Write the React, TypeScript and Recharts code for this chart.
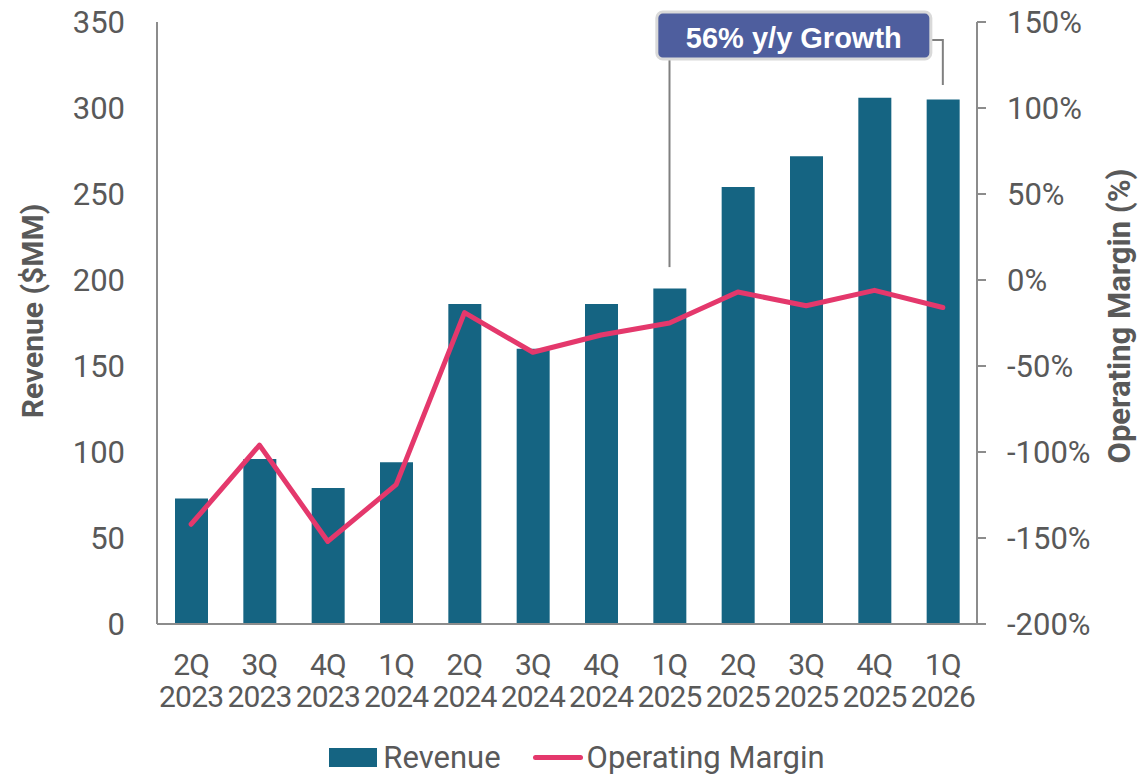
import React from "react";
import {
  ComposedChart,
  Bar,
  Line,
  XAxis,
  YAxis,
  Legend,
  ReferenceLine,
  ReferenceDot,
} from "recharts";

const quarters = [
  "2Q 2023",
  "3Q 2023",
  "4Q 2023",
  "1Q 2024",
  "2Q 2024",
  "3Q 2024",
  "4Q 2024",
  "1Q 2025",
  "2Q 2025",
  "3Q 2025",
  "4Q 2025",
  "1Q 2026",
];
const revenue = [73, 96, 79, 94, 186, 160, 186, 195, 254, 272, 306, 305];
const opMargin = [-142, -96, -152, -119, -19, -42, -32, -25, -7, -15, -6, -16];

const revenueTicks = [0, 50, 100, 150, 200, 250, 300, 350];
const marginTicks = [-200, -150, -100, -50, 0, 50, 100, 150];

const growthLabel = "56% y/y Growth";

const BAR = "#156482";
const LINE = "#E4386C";
const GREY = "#595959";
const AXIS = "#8c8c8c";

const data = quarters.map((q, i) => ({
  q,
  revenue: revenue[i],
  margin: opMargin[i],
}));

// two-line quarter label
const QuarterTick = (props: any) => {
  const { x, y, payload } = props;
  const [top, bottom] = String(payload.value).split(" ");
  return (
    <text
      x={x}
      textAnchor="middle"
      fill={GREY}
      fontSize={30}
      letterSpacing={-0.8}
      fontFamily="Roboto"
    >
      <tspan x={x} y={y + 49}>
        {top}
      </tspan>
      <tspan x={x} y={y + 81}>
        {bottom}
      </tspan>
    </text>
  );
};

// callout box + right connector, anchored on the 1Q 2026 column
const GrowthCallout = (props: any) => {
  const { cx, cy } = props;
  return (
    <g>
      <polyline
        points={`${cx - 12},${cy} ${cx},${cy} ${cx},${cy + 45}`}
        fill="none"
        stroke="#808080"
        strokeWidth={2}
      />
      <rect
        x={cx - 286}
        y={cy - 28}
        width={274}
        height={47}
        rx={6}
        fill="#4E5E9E"
        stroke="#d9d9d9"
        strokeWidth={3}
      />
      <text
        x={cx - 149}
        y={cy + 8}
        textAnchor="middle"
        fill="#fff"
        fontSize={29}
        fontWeight="bold"
        fontFamily="'Liberation Sans', Arial, sans-serif"
      >
        {growthLabel}
      </text>
    </g>
  );
};

const ChartLegend = () => (
  <div
    style={{
      display: "flex",
      justifyContent: "center",
      alignItems: "center",
      height: 51,
      paddingTop: 16,
      paddingLeft: 16,
      boxSizing: "border-box",
      fontFamily: "Roboto",
      fontSize: 31,
      color: GREY,
    }}
  >
    <span style={{ width: 48, height: 19, background: BAR, marginRight: 6 }} />
    <span style={{ marginRight: 32 }}>Revenue</span>
    <span
      style={{
        width: 50,
        height: 5,
        borderRadius: 3,
        background: LINE,
        marginRight: 4,
      }}
    />
    <span>Operating Margin</span>
  </div>
);

const AxisTitle = ({ x, y, size, text }: any) => (
  <text
    x={x}
    y={y}
    transform={`rotate(-90, ${x}, ${y})`}
    textAnchor="middle"
    dominantBaseline="central"
    fill={GREY}
    fontSize={size}
    fontWeight="bold"
    fontFamily="Roboto"
  >
    {text}
  </text>
);

export default function App() {
  return (
    <div style={{ position: "absolute", left: 0, top: 0, fontFamily: "Roboto" }}>
      <ComposedChart
        width={1138}
        height={775}
        data={data}
        margin={{ top: 22, right: 0, bottom: 0, left: 0 }}
      >
        <XAxis
          dataKey="q"
          height={100}
          tick={<QuarterTick />}
          tickLine={false}
          tickSize={0}
          axisLine={{ stroke: AXIS, strokeWidth: 2 }}
          interval={0}
        />
        <YAxis
          yAxisId="left"
          width={157}
          domain={[0, 350]}
          ticks={revenueTicks}
          tickLine={false}
          tickSize={6}
          tickMargin={26}
          axisLine={{ stroke: AXIS, strokeWidth: 2 }}
          tick={{ fill: GREY, fontSize: 31, fontFamily: "Roboto" }}
          label={{
            content: ({ viewBox }: any) => (
              <AxisTitle
                x={viewBox.x + 32}
                y={viewBox.y + viewBox.height / 2 - 12}
                size={30}
                text="Revenue ($MM)"
              />
            ),
          }}
        />
        <YAxis
          yAxisId="right"
          orientation="right"
          width={161}
          domain={[-200, 150]}
          ticks={marginTicks}
          tickFormatter={(v: number) => `${v}%`}
          tickSize={9}
          tickMargin={21}
          tickLine={{ stroke: AXIS, strokeWidth: 2 }}
          axisLine={{ stroke: AXIS, strokeWidth: 2 }}
          tick={{ fill: GREY, fontSize: 31, fontFamily: "Roboto", textAnchor: "start" }}
          label={{
            content: ({ viewBox }: any) => (
              <AxisTitle
                x={viewBox.x + 142}
                y={viewBox.y + viewBox.height / 2 - 7}
                size={31}
                text="Operating Margin (%)"
              />
            ),
          }}
        />
        <Legend verticalAlign="bottom" height={51} content={<ChartLegend />} />
        <Bar
          yAxisId="left"
          dataKey="revenue"
          name="Revenue"
          fill={BAR}
          barSize={33}
          isAnimationActive={false}
        />
        <Line
          yAxisId="right"
          dataKey="margin"
          name="Operating Margin"
          stroke={LINE}
          strokeWidth={5}
          strokeLinejoin="round"
          strokeLinecap="round"
          dot={false}
          activeDot={false}
          type="linear"
          isAnimationActive={false}
        />
        {/* left connector from the callout down to 1Q 2025 */}
        <ReferenceLine
          yAxisId="left"
          segment={[
            { x: "1Q 2025", y: 207.5 },
            { x: "1Q 2025", y: 330 },
          ]}
          stroke="#808080"
          strokeWidth={2}
        />
        <ReferenceDot
          yAxisId="left"
          x="1Q 2026"
          y={339.5}
          r={0}
          shape={<GrowthCallout />}
        />
      </ComposedChart>
    </div>
  );
}
